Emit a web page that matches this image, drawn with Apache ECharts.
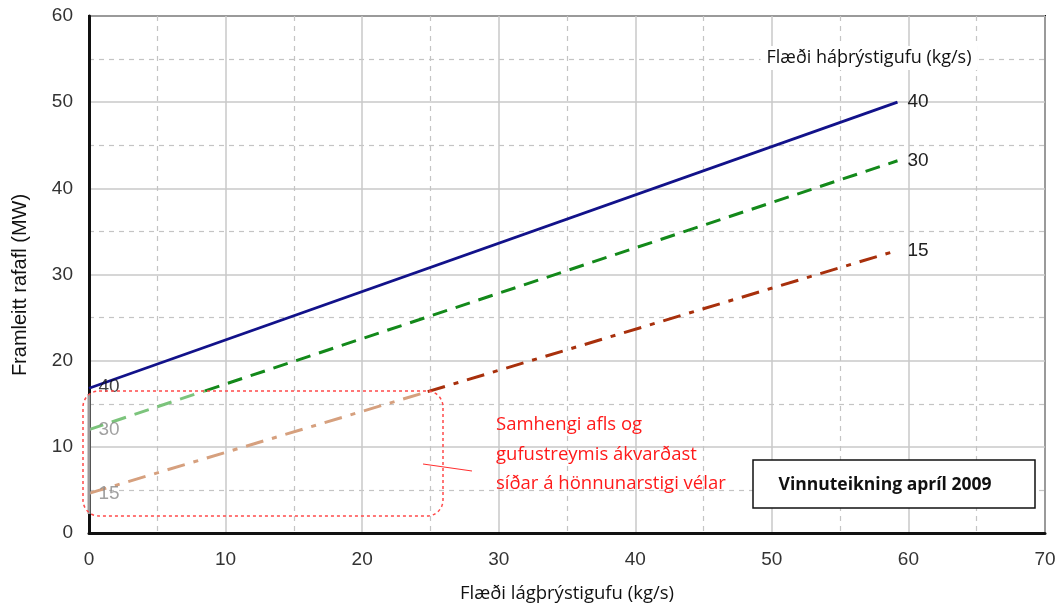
<!DOCTYPE html>
<html>
<head>
<meta charset="utf-8">
<script src="https://cdn.jsdelivr.net/npm/echarts@6/dist/echarts.min.js"></script>
<style>
html,body{margin:0;padding:0;background:#fff;}
#chart{width:1057px;height:605px;}
</style>
</head>
<body>
<div id="chart"></div>
<script>
// Tick values
const xTicks = [0, 10, 20, 30, 40, 50, 60, 70];
const yTicks = [0, 10, 20, 30, 40, 50, 60];

// High-pressure steam flow curves (kg/s labels)
const curveLabels = ['40', '30', '15'];

// Curve 40 (entirely outside the uncertain region)
const curve40 = [[0, 16.8], [59.2, 50]];
// Curve 30: light part inside uncertain region, dark part outside
const curve30Light = [[0, 12], [8.5, 16.5]];
const curve30Dark = [[8.5, 16.5], [59.2, 43.2]];
// Curve 15
const curve15Light = [[0, 4.6], [24.8, 16.4]];
const curve15Dark = [[24.8, 16.4], [59.2, 32.8]];

// Start points used for the left-hand labels
const startPoints = [curve40[0], curve30Light[0], curve15Light[0]];

const chart = echarts.init(document.getElementById('chart'), null, {renderer: 'canvas'});

const tickFont = {fontFamily: '"Liberation Sans", Arial, sans-serif', fontSize: 19, color: '#333'};
const annFont = '"Open Sans", Lato, sans-serif';

const option = {
  animation: false,
  backgroundColor: '#fff',
  grid: {left: 89, right: 12, top: 16, bottom: 72, show: true, borderColor: '#111', borderWidth: 2, backgroundColor: 'transparent', containLabel: false, outerBoundsMode: 'none'},
  xAxis: {
    type: 'value', min: xTicks[0], max: xTicks[xTicks.length - 1], interval: 10,
    axisLine: {show: true, onZero: false, lineStyle: {color: '#111', width: 3}},
    axisTick: {show: false},
    axisLabel: Object.assign({margin: 17}, tickFont),
    splitLine: {show: true, lineStyle: {color: '#c8c8c8', width: 1.5}},
    minorTick: {show: false, splitNumber: 2},
    minorSplitLine: {show: true, lineStyle: {color: '#c4c4c4', width: 1.2, type: [5, 5]}},
    name: 'Flæði lágþrýstigufu (kg/s)', nameLocation: 'middle', nameGap: 51,
    nameTextStyle: {fontFamily: annFont, fontSize: 18.5, color: '#111'}
  },
  yAxis: {
    type: 'value', min: yTicks[0], max: yTicks[yTicks.length - 1], interval: 10,
    axisLine: {show: true, onZero: false, lineStyle: {color: '#111', width: 3}},
    axisTick: {show: false},
    axisLabel: Object.assign({margin: 16}, tickFont),
    splitLine: {show: true, lineStyle: {color: '#c8c8c8', width: 1.5}},
    minorTick: {show: false, splitNumber: 2},
    minorSplitLine: {show: true, lineStyle: {color: '#c4c4c4', width: 1.2, type: [5, 5]}}
  },
  series: [
    {
      type: 'line', data: curve40, showSymbol: false, symbol: 'none', z: 5,
      lineStyle: {color: '#12128a', width: 2.8, type: 'solid'},
      endLabel: {show: true, formatter: curveLabels[0], distance: 10, fontFamily: '"Liberation Sans", Arial, sans-serif', fontSize: 19, color: '#222'}
    },
    {
      type: 'line', data: curve30Light, showSymbol: false, symbol: 'none', z: 4,
      lineStyle: {color: '#7cc47c', width: 3, type: [15, 9]}
    },
    {
      type: 'line', data: curve30Dark, showSymbol: false, symbol: 'none', z: 4,
      lineStyle: {color: '#13891a', width: 3, type: [15, 9]},
      endLabel: {show: true, formatter: curveLabels[1], distance: 10, fontFamily: '"Liberation Sans", Arial, sans-serif', fontSize: 19, color: '#222'}
    },
    {
      type: 'line', data: curve15Light, showSymbol: false, symbol: 'none', z: 4,
      lineStyle: {color: '#d6a07e', width: 3, type: [18, 9, 5, 9]}
    },
    {
      type: 'line', data: curve15Dark, showSymbol: false, symbol: 'none', z: 4,
      lineStyle: {color: '#a8300c', width: 3, type: [18, 9, 5, 9]},
      endLabel: {show: true, formatter: curveLabels[2], distance: 10, fontFamily: '"Liberation Sans", Arial, sans-serif', fontSize: 19, color: '#222'}
    },
    {
      type: 'scatter', symbolSize: 1, z: 6,
      itemStyle: {color: 'rgba(0,0,0,0)'},
      data: startPoints.map((p, i) => ({
        value: p,
        label: {
          show: true, position: 'right', distance: 9, formatter: curveLabels[i],
          fontFamily: '"Liberation Sans", Arial, sans-serif', fontSize: 19,
          color: i === 0 ? '#111' : '#8a8a8a',
          offset: i === 0 ? [0, -1] : [0, 0]
        }
      }))
    }
  ],
  graphic: [
    // y-axis name
    {
      type: 'text', x: 20, y: 285, rotation: Math.PI / 2, z: 10,
      style: {text: 'Framleitt rafafl (MW)', fontFamily: '"Liberation Sans", Arial, sans-serif', fontSize: 20, fill: '#111', align: 'center', verticalAlign: 'middle'}
    },
    // grey segment of the y axis inside the uncertain region
    {
      type: 'line', z: 20,
      shape: {x1: 89, y1: 394, x2: 89, y2: 514},
      style: {stroke: '#9a9a9a', lineWidth: 3}
    },
    // legend title for curves
    {
      type: 'text', x: 869, y: 58, z: 10,
      style: {text: 'Flæði háþrýstigufu (kg/s)', fontFamily: annFont, fontSize: 18, fill: '#111', align: 'center', verticalAlign: 'middle', backgroundColor: '#fff', padding: [3, 6]}
    },
    // dotted rounded box of uncertain region
    {
      type: 'rect', z: 21,
      shape: {x: 83, y: 391, width: 360, height: 125, r: 16},
      style: {fill: 'none', stroke: '#ff4a4a', lineWidth: 1.5, lineDash: [3, 3]}
    },
    // connector
    {
      type: 'line', z: 8,
      shape: {x1: 423, y1: 464, x2: 472, y2: 471},
      style: {stroke: '#ff3030', lineWidth: 1.2}
    },
    {
      type: 'text', x: 496, y: 425, z: 10,
      style: {text: 'Samhengi afls og', fontFamily: annFont, fontSize: 18.5, fill: '#ff1a1a', verticalAlign: 'middle'}
    },
    {
      type: 'text', x: 496, y: 455, z: 10,
      style: {text: 'gufustreymis ákvarðast', fontFamily: annFont, fontSize: 18.5, fill: '#ff1a1a', verticalAlign: 'middle'}
    },
    {
      type: 'text', x: 496, y: 484, z: 10,
      style: {text: 'síðar á hönnunarstigi vélar', fontFamily: annFont, fontSize: 18.5, fill: '#ff1a1a', verticalAlign: 'middle'}
    },
    // stamp box
    {
      type: 'rect', z: 9,
      shape: {x: 753, y: 460, width: 282, height: 48},
      style: {fill: '#fff', stroke: '#111', lineWidth: 1.5}
    },
    {
      type: 'text', x: 885, y: 485, z: 10,
      style: {text: 'Vinnuteikning apríl 2009', fontFamily: annFont, fontWeight: 'bold', fontSize: 17.5, fill: '#111', align: 'center', verticalAlign: 'middle'}
    }
  ]
};

chart.setOption(option);
</script>
</body>
</html>
